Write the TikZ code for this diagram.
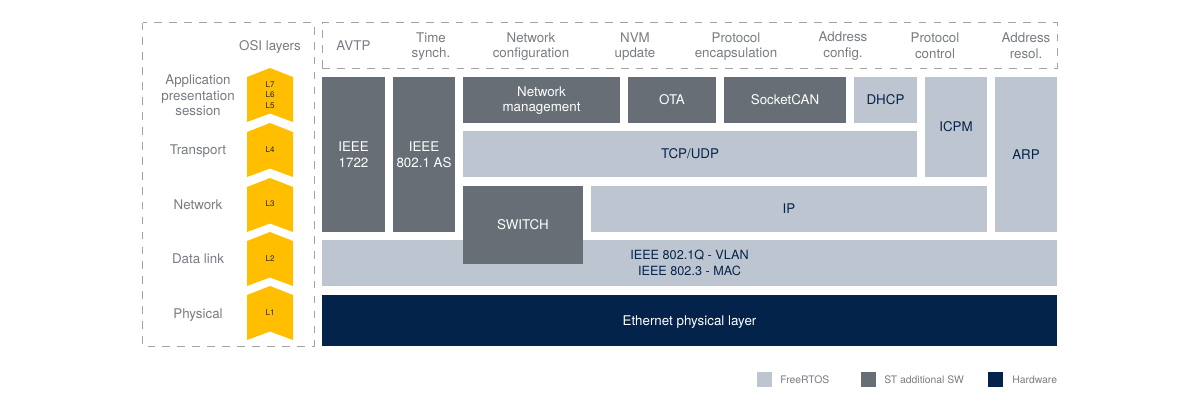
\documentclass[tikz,border=0pt]{standalone}
\usepackage{fontspec}
\setmainfont{TeX Gyre Heros}
\definecolor{stlight}{HTML}{BDC6D0}
\definecolor{stdark}{HTML}{686E76}
\definecolor{stnavy}{HTML}{03234B}
\definecolor{styellow}{HTML}{FFBF00}
\definecolor{sttext}{HTML}{777C83}
\definecolor{stdash}{HTML}{A3A3A3}
\newcommand{\myunit}{0.02cm}
\tikzset{
    node style sw/.style={rectangle,fill=stdark,text=white,align=center,inner sep=0pt},
    node style rtos/.style={rectangle,fill=stlight,text=stnavy,align=center,inner sep=0pt},
    node style hw/.style={rectangle,fill=stnavy,text=white,align=center,inner sep=0pt},
    node style lab/.style={text=sttext,align=center,inner sep=0pt,font=\fontsize{7.6}{8.9}\selectfont},
    node style leg/.style={text=sttext,anchor=west,inner sep=0pt,font=\fontsize{5.9}{7}\selectfont},
    node style lay/.style={text=black!85,align=center,inner sep=0pt,font=\fontsize{4.6}{6.1}\selectfont},
    box size/.style 2 args={minimum width=#1*\myunit,minimum height=#2*\myunit},
    line style dash/.style={draw=stdash,line width=0.55pt,dash pattern=on 4.4pt off 4.1pt},
}

\begin{document}
\begin{tikzpicture}[x=\myunit,y=-\myunit,font=\fontsize{7.6}{8.9}\selectfont]
\useasboundingbox (0,0) rectangle (1200,400);

% dashed frames
\draw [line style dash] (142.5,22.5) rectangle (314,346);
\draw [line style dash] (322,68) -- (322,22.5) -- (1057,22.5) -- (1057,68) -- cycle;

% osi layers
\foreach \ytop/\ybot in {68/122,123/177,178/232,232/286,286/340}
  \fill [styellow] (247,\ytop+9) -- (270,\ytop) -- (293,\ytop+9) -- (293,\ybot)
                   -- (270,\ybot-8.5) -- (247,\ybot) -- cycle;

\node [node style lay] (l7) at (270,95) {L7\\L6\\L5};
\node [node style lay] (l4) at (270,150) {L4};
\node [node style lay] (l3) at (270,204) {L3};
\node [node style lay] (l2) at (270,259) {L2};
\node [node style lay] (l1) at (270,313) {L1};

\node [node style lab] (osi) at (270,46.5) {OSI layers};
\node [node style lab] (app) at (198,95.5) {Application\\presentation\\session};
\node [node style lab] (transport) at (198,151) {Transport};
\node [node style lab] (network) at (198,205) {Network};
\node [node style lab] (datalink) at (198,258.5) {Data link};
\node [node style lab] (physical) at (198,315) {Physical};

% functions
\node [node style lab] (avtp) at (353.5,46) {AVTP};
\node [node style lab] (time) at (431,46.5) {Time\\synch.};
\node [node style lab] (netconf) at (531,46.5) {Network\\configuration};
\node [node style lab] (nvm) at (635,46.5) {NVM\\update};
\node [node style lab] (encap) at (736,46.5) {Protocol\\encapsulation};
\node [node style lab] (addrconf) at (843,46) {Address\\config.};
\node [node style lab] (protctl) at (935,45.5) {Protocol\\control};
\node [node style lab] (addrres) at (1026,45.5) {Address\\resol.};

% stack
\node [node style sw,box size={63}{155}] (ieee1722) at (353.5,154.5) {IEEE\\1722};
\node [node style sw,box size={62}{155}] (ieee8021as) at (424,154.5) {IEEE\\802.1 AS};
\node [node style sw,box size={157}{46},text depth=0.8pt] (netman) at (541.5,100) {Network\\management};
\node [node style sw,box size={88}{46}] (ota) at (672,100) {OTA};
\node [node style sw,box size={122}{46}] (socketcan) at (785,100) {SocketCAN};
\node [node style rtos,box size={63}{46}] (dhcp) at (885.5,100) {DHCP};
\node [node style rtos,box size={62}{100}] (icpm) at (956,127) {ICPM};
\node [node style rtos,box size={62}{155}] (arp) at (1026,154.5) {ARP};
\node [node style rtos,box size={454}{46},text depth=1pt] (tcpudp) at (690,154) {TCP/UDP};
\node [node style rtos,box size={396}{46}] (ip) at (789,209) {IP};
\node [node style rtos,box size={735}{46},text depth=-0.55pt,font=\fontsize{7.2}{8.9}\selectfont] (mac) at (689.5,263) {IEEE 802.1Q - VLAN\\IEEE 802.3 - MAC};
\node [node style sw,box size={120}{78}] (switch) at (523,225) {SWITCH};
\node [node style hw,box size={735}{51},text depth=0pt] (phy) at (689.5,320.5) {Ethernet physical layer};

% legend
\node [node style rtos,box size={15}{15}] (legrtos) at (764.5,379.5) {};
\node [node style leg] (legrtostxt) at (780,380) {FreeRTOS};
\node [node style sw,box size={15}{15}] (legsw) at (868.5,379.5) {};
\node [node style leg] (legswtxt) at (884,380) {ST additional SW};
\node [node style hw,box size={15}{15}] (leghw) at (995.5,379.5) {};
\node [node style leg] (leghwtxt) at (1012,380) {Hardware};

\end{tikzpicture}
\end{document}
